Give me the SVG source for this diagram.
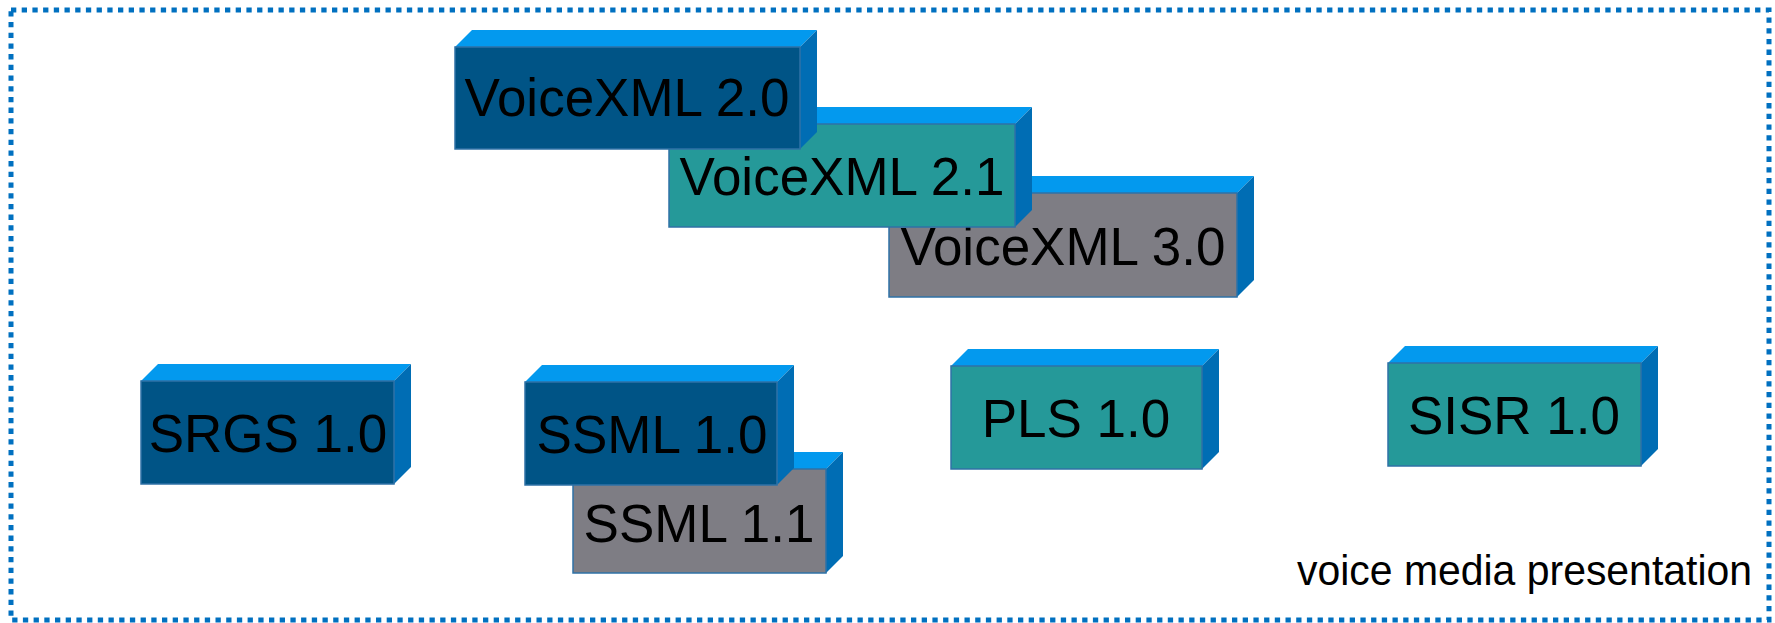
<svg xmlns="http://www.w3.org/2000/svg" width="1775" height="623" viewBox="0 0 1775 623">
<style>
.top{fill:#0399EE}
.side{fill:#006DB4}
.front{stroke:#2F72A6;stroke-width:1.5}
.dark{fill:#005486}
.teal{fill:#259999}
.gray{fill:#7E7D84}
.lbl{font-family:"Liberation Sans",Arial,sans-serif;font-size:53px;fill:#000;text-anchor:middle}
.cap{font-family:"Liberation Sans",Arial,sans-serif;font-size:43px;fill:#000}
</style>
<rect x="11" y="10" width="1758" height="610" fill="none" stroke="#0070C0" stroke-width="5" stroke-dasharray="5.3 5.4"/>
<g id="voicexml30" transform="translate(889,193)">
<polygon class="top" points="0,0 17,-17 365,-17 348,0"/>
<polygon class="side" points="348,0 365,-17 365,87 348,104"/>
<rect class="front gray" x="0" y="0" width="348" height="104"/>
<text class="lbl" x="174" y="72">VoiceXML 3.0</text>
</g>
<g id="voicexml21" transform="translate(669,124)">
<polygon class="top" points="0,0 17,-17 363,-17 346,0"/>
<polygon class="side" points="346,0 363,-17 363,86 346,103"/>
<rect class="front teal" x="0" y="0" width="346" height="103"/>
<text class="lbl" x="173" y="71">VoiceXML 2.1</text>
</g>
<g id="voicexml20" transform="translate(455,47)">
<polygon class="top" points="0,0 17,-17 362,-17 345,0"/>
<polygon class="side" points="345,0 362,-17 362,85 345,102"/>
<rect class="front dark" x="0" y="0" width="345" height="102"/>
<text class="lbl" x="172" y="69">VoiceXML 2.0</text>
</g>
<g id="srgs10" transform="translate(141,381)">
<polygon class="top" points="0,0 17,-17 270,-17 253,0"/>
<polygon class="side" points="253,0 270,-17 270,86 253,103"/>
<rect class="front dark" x="0" y="0" width="253" height="103"/>
<text class="lbl" x="127" y="71">SRGS 1.0</text>
</g>
<g id="ssml11" transform="translate(573,469)">
<polygon class="top" points="0,0 17,-17 270,-17 253,0"/>
<polygon class="side" points="253,0 270,-17 270,87 253,104"/>
<rect class="front gray" x="0" y="0" width="253" height="104"/>
<text class="lbl" x="126" y="73">SSML 1.1</text>
</g>
<g id="ssml10" transform="translate(525,382)">
<polygon class="top" points="0,0 17,-17 269,-17 252,0"/>
<polygon class="side" points="252,0 269,-17 269,86 252,103"/>
<rect class="front dark" x="0" y="0" width="252" height="103"/>
<text class="lbl" x="127" y="71">SSML 1.0</text>
</g>
<g id="pls10" transform="translate(951,366)">
<polygon class="top" points="0,0 17,-17 268,-17 251,0"/>
<polygon class="side" points="251,0 268,-17 268,86 251,103"/>
<rect class="front teal" x="0" y="0" width="251" height="103"/>
<text class="lbl" x="125" y="71">PLS 1.0</text>
</g>
<g id="sisr10" transform="translate(1388,363)">
<polygon class="top" points="0,0 17,-17 270,-17 253,0"/>
<polygon class="side" points="253,0 270,-17 270,86 253,103"/>
<rect class="front teal" x="0" y="0" width="253" height="103"/>
<text class="lbl" x="126" y="71">SISR 1.0</text>
</g>
<g id="connectors"></g>
<text class="cap" x="1297" y="585" textLength="455" lengthAdjust="spacingAndGlyphs">voice media presentation</text>
</svg>
